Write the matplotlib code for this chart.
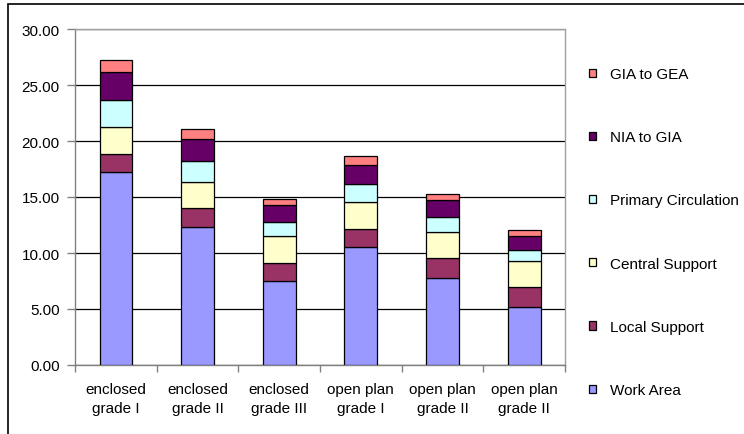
import matplotlib
matplotlib.use("Agg")
import matplotlib.pyplot as plt
from matplotlib.patches import Rectangle, Patch
from matplotlib.ticker import MultipleLocator, FixedLocator
import numpy as np

plt.rcParams['font.family'] = ['Liberation Sans', 'DejaVu Sans']

categories = ["enclosed\ngrade I", "enclosed\ngrade II", "enclosed\ngrade III",
              "open plan\ngrade I", "open plan\ngrade II", "open plan\ngrade II"]

work_area = [17.20, 12.35, 7.47, 10.51, 7.77, 5.15]
local_support = [1.67, 1.64, 1.61, 1.60, 1.75, 1.81]
central_support = [2.38, 2.38, 2.41, 2.41, 2.38, 2.35]
primary_circulation = [2.38, 1.82, 1.31, 1.61, 1.29, 0.96]
nia_to_gia = [2.53, 1.96, 1.49, 1.76, 1.51, 1.22]
gia_to_gea = [1.07, 0.92, 0.56, 0.77, 0.60, 0.54]

series = [
    ("Work Area", work_area, "#9999FF"),
    ("Local Support", local_support, "#993366"),
    ("Central Support", central_support, "#FFFFCC"),
    ("Primary Circulation", primary_circulation, "#CCFFFF"),
    ("NIA to GIA", nia_to_gia, "#660066"),
    ("GIA to GEA", gia_to_gea, "#FF8080"),
]

W, H = 744, 435
fig = plt.figure(figsize=(W / 100, H / 100), dpi=100)
ax = fig.add_axes([75 / W, (H - 366) / H, (565 - 75) / W, (366 - 30) / H])

x = np.arange(len(categories))
bottom = np.zeros(len(categories))
handles = []
for name, vals, color in series:
    ax.bar(x, vals, width=0.4, bottom=bottom, color=color,
           edgecolor="black", linewidth=0.9, zorder=3)
    bottom += np.array(vals)
    handles.append(Patch(facecolor=color, edgecolor="black", linewidth=0.9, label=name))

ax.set_xlim(-0.5, len(categories) - 0.5)
ax.set_ylim(0, 30)
ax.yaxis.set_major_locator(MultipleLocator(5))
ax.yaxis.set_major_formatter(matplotlib.ticker.FormatStrFormatter("%.2f"))
ax.grid(axis="y", color="black", linewidth=0.9, zorder=1)

ax.set_xticks(x)
ax.set_xticklabels(categories, fontsize=11, linespacing=1.45)
ax.xaxis.set_minor_locator(FixedLocator(np.arange(-0.5, len(categories), 1.0)))
ax.tick_params(axis="x", which="major", length=0, pad=12)
ax.tick_params(axis="x", which="minor", length=5, width=1, color="#808080", direction="out")
ax.tick_params(axis="y", length=6, width=1, color="#808080", labelsize=11, pad=5)

for side in ["left", "bottom", "right", "top"]:
    ax.spines[side].set_color("#808080")
    ax.spines[side].set_linewidth(1.0)
ax.spines["top"].set_color("#a0a0a0")
ax.spines["right"].set_color("#a0a0a0")

fig.legend(handles=handles[::-1], loc="upper left",
           bbox_to_anchor=(583 / W, 1 - 62 / H), frameon=False, fontsize=11,
           handlelength=0.45, handleheight=0.45, handletextpad=0.9,
           labelspacing=3.22, borderaxespad=0)

fig.patches.append(Rectangle((8 / W, -0.1), 1.2, (H - 5) / H + 0.1,
                             transform=fig.transFigure, fill=False,
                             edgecolor="black", linewidth=1.2))

fig.savefig("out.png", dpi=100)
